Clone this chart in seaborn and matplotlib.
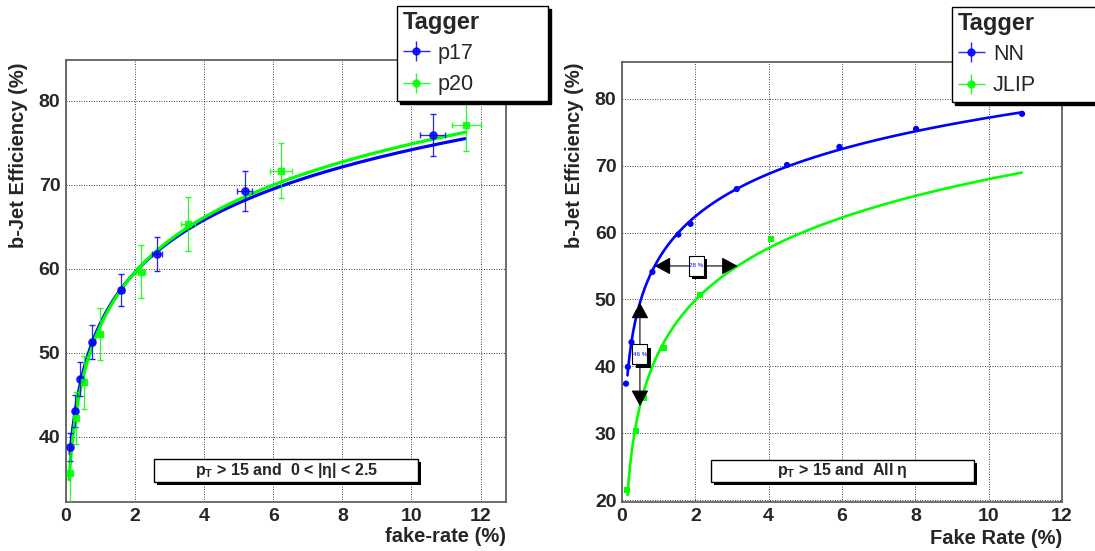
import numpy as np
import matplotlib
matplotlib.use("Agg")
import matplotlib.pyplot as plt
import matplotlib.patheffects as pe
from matplotlib.patches import Rectangle
from matplotlib.ticker import MultipleLocator
from matplotlib.transforms import ScaledTranslation
from matplotlib.container import ErrorbarContainer
from matplotlib.legend_handler import HandlerErrorbar
import seaborn as sns

# ---- data ----
# left panel: pT > 15, 0 < |eta| < 2.5
p17_x = [0.13, 0.25, 0.41, 0.76, 1.60, 2.63, 5.17, 10.61]
p17_y = [38.8, 43.1, 46.9, 51.3, 57.5, 61.8, 69.3, 75.9]
p17_xerr = [0.02, 0.02, 0.03, 0.04, 0.07, 0.15, 0.23, 0.37]
p17_yerr = [1.7, 1.9, 2.0, 2.0, 1.9, 2.0, 2.4, 2.5]

p20_x = [0.11, 0.28, 0.51, 0.99, 2.17, 3.54, 6.23, 11.59]
p20_y = [35.7, 42.3, 46.5, 52.3, 59.7, 65.4, 71.7, 77.1]
p20_xerr = [0.02, 0.02, 0.03, 0.04, 0.13, 0.21, 0.31, 0.42]
p20_yerr = [3.5, 3.1, 3.2, 3.1, 3.1, 3.2, 3.3, 3.1]

# fitted curves drawn in the left panel, eff = a + b*ln(fake + c)
p17_fit = (52.85, 9.24, 0.08)
p20_fit = (52.6, 9.65, 0.07)
p17_fit_range = (0.12, 11.55)
p20_fit_range = (0.09, 11.55)

# right panel: pT > 15, all eta
nn_x = [0.11, 0.16, 0.26, 0.43, 0.83, 1.54, 1.87, 3.13, 4.50, 5.93, 8.02, 10.91]
nn_y = [37.4, 39.9, 43.6, 48.0, 54.1, 59.7, 61.3, 66.5, 70.1, 72.8, 75.5, 77.75]
jlip_x = [0.14, 0.38, 0.60, 1.13, 2.13, 4.07]
jlip_y = [21.5, 30.3, 35.2, 42.7, 50.7, 59.0]

nn_fit_min = 0.15          # first NN point left out of the fit
right_fit_range = (0.15, 10.9)

# comparison arrows on the right panel
arrow_eff = 55.0      # horizontal arrow at this efficiency
arrow_fake = 0.49     # vertical arrow at this fake rate
label_h = "28 %"
label_v = "46 %"

BLUE = "#0000ff"
GREEN = "#00ff00"

sns.set_style("white")
plt.rcParams["font.family"] = ["Liberation Sans", "DejaVu Sans"]
plt.rcParams["mathtext.fontset"] = "custom"
plt.rcParams["mathtext.rm"] = "Liberation Sans:bold"
plt.rcParams["mathtext.bf"] = "Liberation Sans:bold"


def log_curve(params):
    a, b, c = params
    return lambda t: a + b * np.log(np.asarray(t) + c)


def log_fit(x, y):
    b, a = np.polyfit(np.log(x), y, 1)
    f = lambda t: a + b * np.log(t)
    f.inv = lambda e: np.exp((e - a) / b)
    return f


def style(ax, xlim, ylim):
    ax.set_xlim(*xlim)
    ax.set_ylim(*ylim)
    ax.xaxis.set_major_locator(MultipleLocator(2))
    ax.xaxis.set_minor_locator(MultipleLocator(0.5))
    ax.yaxis.set_major_locator(MultipleLocator(10))
    ax.yaxis.set_minor_locator(MultipleLocator(2))
    ax.tick_params(which="both", direction="in", top=False, right=False,
                   labelsize=14, width=0.9, color="#333333")
    ax.tick_params(which="major", length=6.5, pad=4)
    ax.tick_params(which="minor", length=4.3)
    plt.setp(ax.get_xticklabels() + ax.get_yticklabels(), fontweight="bold")
    ax.grid(True, which="major", color="black", linestyle=(0, (1, 2)), linewidth=0.6)
    for s in ax.spines.values():
        s.set_color("#555555")
        s.set_linewidth(1.2)
    ax.set_axisbelow(True)


def legend_handle(ax, color, label):
    # marker with a plain error cross, as drawn in the legend
    return ax.errorbar([], [], xerr=[], yerr=[], fmt="o", color=color, ms=5,
                       elinewidth=1.0, alpha=0.85, label=label)


def legend(ax, handles, x0, y0, w):
    leg = ax.legend(handles=handles, title="Tagger", loc="upper left",
                    bbox_to_anchor=(x0 / 1095, 1 - y0 / 551, w / 1095, 0),
                    bbox_transform=fig.transFigure, mode="expand",
                    fontsize=15.5, title_fontproperties={"weight": "bold", "size": 17},
                    alignment="left", frameon=True, fancybox=False,
                    shadow={"color": "black", "alpha": 1}, edgecolor="black",
                    framealpha=1, borderpad=0.25, handlelength=1.3,
                    handletextpad=0.35, labelspacing=0.5, borderaxespad=0,
                    handler_map={ErrorbarContainer: HandlerErrorbar(xerr_size=0.62, yerr_size=0.47)})
    leg.get_frame().set_linewidth(1)
    leg._legend_box.sep = 6
    return leg


def cut_box(x0, y0, x1, y1, text):
    # white label box with a black drop shadow, figure pixel coords
    r = Rectangle((x0 / 1095, 1 - y1 / 551), (x1 - x0) / 1095, (y1 - y0) / 551,
                  transform=fig.transFigure, facecolor="white", edgecolor="black",
                  linewidth=1, zorder=5)
    r.set_path_effects([pe.SimplePatchShadow(offset=(2.2, -2.2), shadow_rgbFace="black", alpha=1),
                        pe.Normal()])
    fig.add_artist(r)
    fig.text((x0 + x1) / 2 / 1095, 1 - (y0 + y1) / 2 / 551, text, ha="center", va="center",
             fontsize=11.5, fontweight="bold", zorder=6)


def small_box(ax, cx, cy, text):
    tr = fig.dpi_scale_trans + ScaledTranslation(cx, cy, ax.transData)
    r = Rectangle((-0.075, -0.10), 0.15, 0.20, transform=tr, facecolor="white",
                  edgecolor="black", linewidth=0.8, zorder=6)
    r.set_path_effects([pe.SimplePatchShadow(offset=(2.5, -2.5), shadow_rgbFace="black", alpha=1),
                        pe.Normal()])
    ax.add_artist(r)
    ax.text(cx, cy, text, ha="center", va="center", color=BLUE, fontsize=4.5, zorder=7)


fig = plt.figure(figsize=(10.95, 5.51), dpi=100)
axL = fig.add_axes([0.0602, 0.0889, 0.4020, 0.8022])
axR = fig.add_axes([0.5680, 0.0889, 0.4019, 0.7986])

# ---- left panel ----
xs = np.geomspace(*p17_fit_range, 300)
sns.lineplot(x=xs, y=log_curve(p17_fit)(xs), ax=axL, color=BLUE, lw=2.3,
             estimator=None, sort=False, zorder=2)
xs = np.geomspace(*p20_fit_range, 300)
sns.lineplot(x=xs, y=log_curve(p20_fit)(xs), ax=axL, color=GREEN, lw=2.3,
             estimator=None, sort=False, zorder=2)
axL.errorbar(p17_x, p17_y, xerr=p17_xerr, yerr=p17_yerr, fmt="o", color=BLUE,
             ms=5.2, elinewidth=0.9, capsize=2, alpha=0.85, zorder=3)
axL.errorbar(p20_x, p20_y, xerr=p20_xerr, yerr=p20_yerr, fmt="s", color=GREEN,
             ms=5.0, elinewidth=0.9, capsize=2, alpha=0.85, zorder=3)
h17 = legend_handle(axL, BLUE, "p17")
h20 = legend_handle(axL, GREEN, "p20")
style(axL, (0, 12.74), (32.26, 84.88))
legend(axL, [h17, h20], 397, 6, 151)

# ---- right panel ----
nn_sel = [i for i, v in enumerate(nn_x) if v >= nn_fit_min]
nn_f = log_fit([nn_x[i] for i in nn_sel], [nn_y[i] for i in nn_sel])
jl_f = log_fit(jlip_x, jlip_y)
xs = np.geomspace(*right_fit_range, 300)
sns.lineplot(x=xs, y=nn_f(xs), ax=axR, color=BLUE, lw=1.9, estimator=None, sort=False, zorder=2)
sns.lineplot(x=xs, y=jl_f(xs), ax=axR, color=GREEN, lw=1.9, estimator=None, sort=False, zorder=2)
sns.scatterplot(x=nn_x, y=nn_y, ax=axR, color=BLUE, marker="o", s=20, edgecolor="none",
                legend=False, zorder=3)
sns.scatterplot(x=jlip_x, y=jlip_y, ax=axR, color=GREEN, marker="s", s=20, edgecolor="none",
                legend=False, zorder=3)
hNN = legend_handle(axR, BLUE, "NN")
hJL = legend_handle(axR, GREEN, "JLIP")

arrow_kw = dict(arrowstyle="<|-|>,head_length=0.55,head_width=0.3", color="black",
                lw=0.8, shrinkA=0, shrinkB=0, mutation_scale=18)
x_nn, x_jl = float(nn_f.inv(arrow_eff)), float(jl_f.inv(arrow_eff))
axR.annotate("", xy=(x_nn, arrow_eff), xytext=(x_jl, arrow_eff), arrowprops=arrow_kw, zorder=4)
e_nn, e_jl = float(nn_f(arrow_fake)), float(jl_f(arrow_fake))
axR.annotate("", xy=(arrow_fake, e_nn), xytext=(arrow_fake, e_jl), arrowprops=arrow_kw, zorder=4)
small_box(axR, (x_nn + x_jl) / 2, arrow_eff, label_h)
small_box(axR, arrow_fake, (e_nn + e_jl) / 2, label_v)

style(axR, (0, 12), (19.7, 85.5))
legend(axR, [hNN, hJL], 952, 7, 170)

# ---- axis titles ----
fig.text(19 / 1095, 1 - 62 / 551, "b-Jet Efficiency (%)", rotation=90, ha="center", va="top",
         fontsize=14.5, fontweight="bold")
fig.text(575 / 1095, 1 - 62 / 551, "b-Jet Efficiency (%)", rotation=90, ha="center", va="top",
         fontsize=14.5, fontweight="bold")
fig.text(506 / 1095, 1 - 537 / 551, "fake-rate (%)", ha="right", va="center",
         fontsize=14.5, fontweight="bold")
fig.text(1062 / 1095, 1 - 538 / 551, "Fake Rate (%)", ha="right", va="center",
         fontsize=14.5, fontweight="bold")

cut_box(154, 459, 418, 482, r"p$_{\mathbf{T}}$ > 15 and  0 < |η| < 2.5")
cut_box(711, 460, 974, 482, r"p$_{\mathbf{T}}$ > 15 and  All η")

fig.savefig("out.png", dpi=100)
